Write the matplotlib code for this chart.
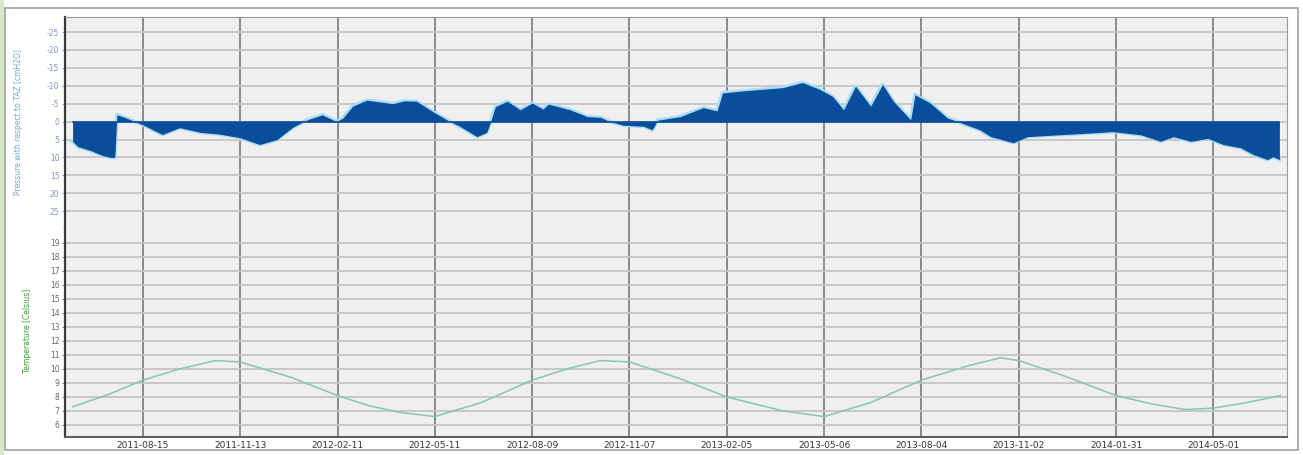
import pandas as pd
import matplotlib.pyplot as plt
import matplotlib.dates as mdates
from matplotlib.patches import Rectangle

plt.rcParams['axes.unicode_minus'] = False

# --- data ---
pressure_dates = [
    '2011-06-11', '2011-06-16', '2011-06-27', '2011-07-09', '2011-07-16', '2011-07-20',
    '2011-07-22', '2011-07-29', '2011-08-15', '2011-09-02', '2011-09-18', '2011-10-07',
    '2011-10-25', '2011-11-13', '2011-12-01', '2011-12-17', '2012-01-01', '2012-01-14',
    '2012-01-28', '2012-02-10', '2012-02-16', '2012-02-25', '2012-03-09', '2012-04-02',
    '2012-04-13', '2012-04-24', '2012-05-09', '2012-05-25', '2012-06-03', '2012-06-19',
    '2012-06-28', '2012-07-01', '2012-07-06', '2012-07-17', '2012-07-29', '2012-08-09',
    '2012-08-19', '2012-08-24', '2012-09-13', '2012-09-29', '2012-10-11', '2012-10-20',
    '2012-11-01', '2012-11-20', '2012-11-28', '2012-12-03', '2012-12-24', '2013-01-14',
    '2013-01-27', '2013-02-01', '2013-02-17', '2013-03-29', '2013-04-16', '2013-05-02',
    '2013-05-14', '2013-05-24', '2013-06-04', '2013-06-18', '2013-06-29', '2013-07-09',
    '2013-07-25', '2013-07-29', '2013-08-12', '2013-08-28', '2013-09-02', '2013-09-27',
    '2013-10-07', '2013-10-28', '2013-11-10', '2013-12-08', '2014-01-01', '2014-01-28',
    '2014-02-23', '2014-03-13', '2014-03-25', '2014-04-10', '2014-04-26', '2014-05-10',
    '2014-05-26', '2014-06-07', '2014-06-20', '2014-06-25', '2014-07-01',
]
pressure_cm = [
    5.5, 7.0, 8.0, 9.5, 10.0, 10.0,
    -1.9, -1.2, 0.9, 3.6, 1.7, 3.0,
    3.5, 4.5, 6.4, 5.0, 1.5, -0.5,
    -1.9, 0.0, -1.0, -4.3, -6.0, -5.0,
    -5.8, -5.7, -2.8, 0.0, 1.3, 4.2,
    3.0, 0.5, -4.2, -5.7, -3.3, -5.2,
    -3.5, -4.9, -3.3, -1.4, -1.2, 0.0,
    1.0, 1.3, 2.3, -0.4, -1.4, -3.9,
    -3.0, -8.0, -8.5, -9.5, -10.9, -9.0,
    -7.0, -3.3, -9.9, -4.3, -10.4, -5.7,
    -0.5, -7.5, -5.2, -1.0, -0.5, 2.3,
    4.2, 5.9, 4.2, 3.7, 3.3, 2.8,
    3.7, 5.5, 4.2, 5.5, 4.7, 6.4,
    7.3, 9.2, 10.6, 9.8, 10.6,
]

temp_dates = [
    '2011-06-11', '2011-07-15', '2011-08-15', '2011-09-18', '2011-10-21', '2011-11-13',
    '2011-12-30', '2012-02-11', '2012-03-10', '2012-04-08', '2012-05-11', '2012-06-23',
    '2012-08-09', '2012-09-10', '2012-10-11', '2012-11-07', '2012-12-24', '2013-02-05',
    '2013-03-29', '2013-05-06', '2013-06-18', '2013-08-04', '2013-09-15', '2013-10-16',
    '2013-11-02', '2013-12-14', '2014-01-31', '2014-03-05', '2014-04-05', '2014-05-01',
    '2014-06-01', '2014-07-02',
]
temp_c = [
    7.3, 8.2, 9.2, 10.0, 10.6, 10.5,
    9.4, 8.1, 7.4, 6.9, 6.6, 7.6,
    9.2, 10.0, 10.6, 10.5, 9.3, 8.0,
    7.0, 6.6, 7.6, 9.2, 10.2, 10.8,
    10.6, 9.5, 8.1, 7.5, 7.1, 7.2,
    7.6, 8.1,
]

tick_dates = ['2011-08-15', '2011-11-13', '2012-02-11', '2012-05-11', '2012-08-09', '2012-11-07',
              '2013-02-05', '2013-05-06', '2013-08-04', '2013-11-02', '2014-01-31', '2014-05-01']
pressure_ticks = [-25, -20, -15, -10, -5, 0, 5, 10, 15, 20, 25]
temp_ticks = list(range(6, 20))

p = pd.DataFrame({'date': pd.to_datetime(pressure_dates), 'cm': pressure_cm})
t = pd.DataFrame({'date': pd.to_datetime(temp_dates), 'c': temp_c})

# --- figure ---
fig = plt.figure(figsize=(13.03, 4.55), dpi=100)
fig.patch.set_facecolor('white')
fig.patches.append(Rectangle((0.004, 0.012), 0.992, 0.97, transform=fig.transFigure,
                             fill=False, edgecolor='#a0a0a0', linewidth=1.2))
fig.patches.append(Rectangle((0, 0), 0.003, 1, transform=fig.transFigure,
                             facecolor='#d6e8c8', edgecolor='none'))

left, right = 0.0499, 0.9877
mid, top, bottom = 0.4989, 0.9626, 0.0396
ax1 = fig.add_axes([left, mid, right - left, top - mid])
ax2 = fig.add_axes([left, bottom, right - left, mid - bottom], sharex=ax1)

xmin, xmax = pd.Timestamp('2011-06-04'), pd.Timestamp('2014-07-08')

for ax in (ax1, ax2):
    ax.set_facecolor('#efefef')
    ax.grid(axis='y', color='#c4c4c4', linewidth=1.3)
    ax.grid(axis='x', color='#6e6e6e', linewidth=1.1)
    ax.set_axisbelow(True)
    ax.spines['left'].set_color('#3a3a3a')
    ax.spines['left'].set_linewidth(1.6)
    ax.spines['right'].set_color('#9a9a9a')
    ax.tick_params(axis='y', length=2, width=0.6, pad=2, labelsize=5.5)
    ax.tick_params(axis='x', length=0)

# pressure panel
span = mdates.date2num(xmax) - mdates.date2num(xmin)
ax1.plot(p['date'], p['cm'], color='#a9dcf5', linewidth=2.6, zorder=2)
ax1.fill_between(p['date'], 0, p['cm'], color='#0a4e9b', linewidth=0, zorder=3)
ax1.axhline(0, color='#0a4e9b', linewidth=1.2, zorder=3,
            xmin=(mdates.date2num(p['date'].iloc[0]) - mdates.date2num(xmin)) / span,
            xmax=(mdates.date2num(p['date'].iloc[-1]) - mdates.date2num(xmin)) / span)
ax1.set_ylim(29.7, -29.2)
ax1.set_yticks(pressure_ticks)
ax1.tick_params(axis='y', labelcolor='#7d93c8', color='#7d93c8')
ax1.spines['bottom'].set_visible(False)
ax1.spines['top'].set_color('#9a9a9a')
ax1.tick_params(axis='x', labelbottom=False)
ax1.set_ylabel('Pressure with respect to TAZ [cmH2O]', color='#6fa8dc', fontsize=5.5)
ax1.yaxis.set_label_coords(-0.034, 0.5)

# temperature panel
ax2.plot(t['date'], t['c'], color='#86c4b4', linewidth=1.1, zorder=3)
ax2.set_ylim(5.14, 20.07)
ax2.set_yticks(temp_ticks)
ax2.set_yticklabels([str(v) for v in temp_ticks])
ax2.tick_params(axis='y', labelcolor='#5f6f5f', color='#5f6f5f')
ax2.spines['top'].set_visible(False)
ax2.spines['bottom'].set_color('#5a5a5a')
ax2.spines['bottom'].set_linewidth(1.4)
ax2.set_ylabel('Temperature [Celsius]', color='#3e9a3e', fontsize=5.5)
ax2.yaxis.set_label_coords(-0.027, 0.51)

ax2.set_xlim(xmin, xmax)
ax2.set_xticks(pd.to_datetime(tick_dates))
ax2.set_xticklabels(tick_dates, fontsize=6.5, color='#333333')
ax2.tick_params(axis='x', pad=3)

fig.savefig('out.png', dpi=100)
